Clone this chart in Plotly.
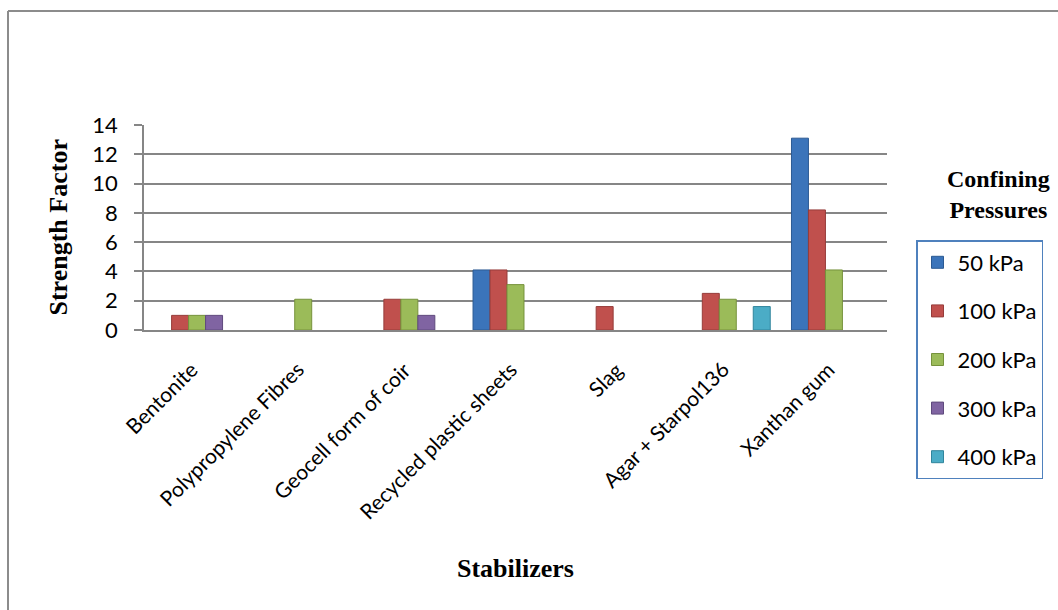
import plotly.graph_objects as go

categories = ["Bentonite", "Polypropylene Fibres", "Geocell form of coir",
              "Recycled plastic sheets", "Slag", "Agar + Starpol136", "Xanthan gum"]
series_names = ["50 kPa", "100 kPa", "200 kPa", "300 kPa", "400 kPa"]
v50 = [None, None, None, 4.1, None, None, 13.1]
v100 = [1.0, None, 2.1, 4.1, 1.6, 2.5, 8.2]
v200 = [1.0, 2.1, 2.1, 3.1, None, 2.1, 4.1]
v300 = [1.0, None, 1.0, None, None, None, None]
v400 = [None, None, None, None, None, 1.6, None]
y_ticks = [0, 2, 4, 6, 8, 10, 12, 14]

series_values = [v50, v100, v200, v300, v400]
colors = ["#3B74BA", "#C0504D", "#9BBB59", "#8064A2", "#4BACC6"]
borders = ["#2C5A93", "#963C3A", "#76923C", "#5F4A7D", "#31859C"]

fig = go.Figure()
for i, (name, vals) in enumerate(zip(series_names, series_values)):
    fig.add_trace(go.Bar(
        x=categories, y=vals, name=name,
        marker=dict(color=colors[i], line=dict(color=borders[i], width=1)),
        legendgroup=name,
    ))

L, R, T, B = 144, 171, 125, 280
W, H = 1058, 610
pw = W - L - R
ph = H - T - B

def px(x):
    return (x - L) / pw

def py(y):
    return (H - B - y) / ph

serif = "Liberation Serif, Times New Roman, serif"
sans = "Lato, Open Sans, sans-serif"

annotations = [
    dict(text="<b>Strength Factor</b>", x=px(58), y=0.5, xref="paper", yref="paper",
         xanchor="center", yanchor="middle",
         textangle=-90, showarrow=False, font=dict(family=serif, size=26)),
    dict(text="<b>Stabilizers</b>", x=px(515), y=py(568), xref="paper", yref="paper",
         xanchor="center", yanchor="middle",
         showarrow=False, font=dict(family=serif, size=26)),
    dict(text="<b>Confining<br>Pressures</b>", x=px(998), y=py(194), xref="paper", yref="paper",
         xanchor="center", yanchor="middle", align="center", showarrow=False,
         font=dict(family=serif, size=24)),
]
for c in categories:
    annotations.append(dict(
        text=c, x=c, xref="x", y=py(354), yref="paper",
        xanchor="right", yanchor="top", xshift=8, textangle=-45,
        showarrow=False, font=dict(family=sans, size=21, color="black"),
    ))

fig.update_layout(
    width=W, height=H,
    margin=dict(l=L, r=R, t=T, b=B),
    paper_bgcolor="white", plot_bgcolor="white",
    barmode="group", bargap=0.2, bargroupgap=0,
    font=dict(family=sans, color="black"),
    showlegend=True,
    legend=dict(
        x=px(916), y=py(240), xanchor="left", yanchor="top",
        bordercolor="#4F81BD", borderwidth=1.5,
        font=dict(size=22, family=sans),
        tracegroupgap=17, itemwidth=30, maxheight=400,
    ),
    xaxis=dict(
        range=[-0.5, len(categories) - 0.5], autorange=False,
        showticklabels=False,
        showline=True, linecolor="#868686", linewidth=1.5,
        ticks="", showgrid=False,
    ),
    yaxis=dict(
        range=[0, 14], tickvals=y_ticks, tickfont=dict(size=22),
        ticklabelstandoff=12,
        showgrid=True, gridcolor="#868686", gridwidth=1.5,
        showline=True, linecolor="#868686", linewidth=1.5,
        ticks="outside", ticklen=8, tickcolor="#868686", tickwidth=1.5,
        zeroline=False,
    ),
    annotations=annotations,
    shapes=[
        dict(type="line", xref="paper", yref="paper", x0=px(8), x1=px(1060), y0=py(11), y1=py(11),
             line=dict(color="#8C8C8C", width=2)),
        dict(type="line", xref="paper", yref="paper", x0=px(8), x1=px(8), y0=py(11), y1=py(612),
             line=dict(color="#8C8C8C", width=2)),
    ],
)

fig.write_html("out.html")
